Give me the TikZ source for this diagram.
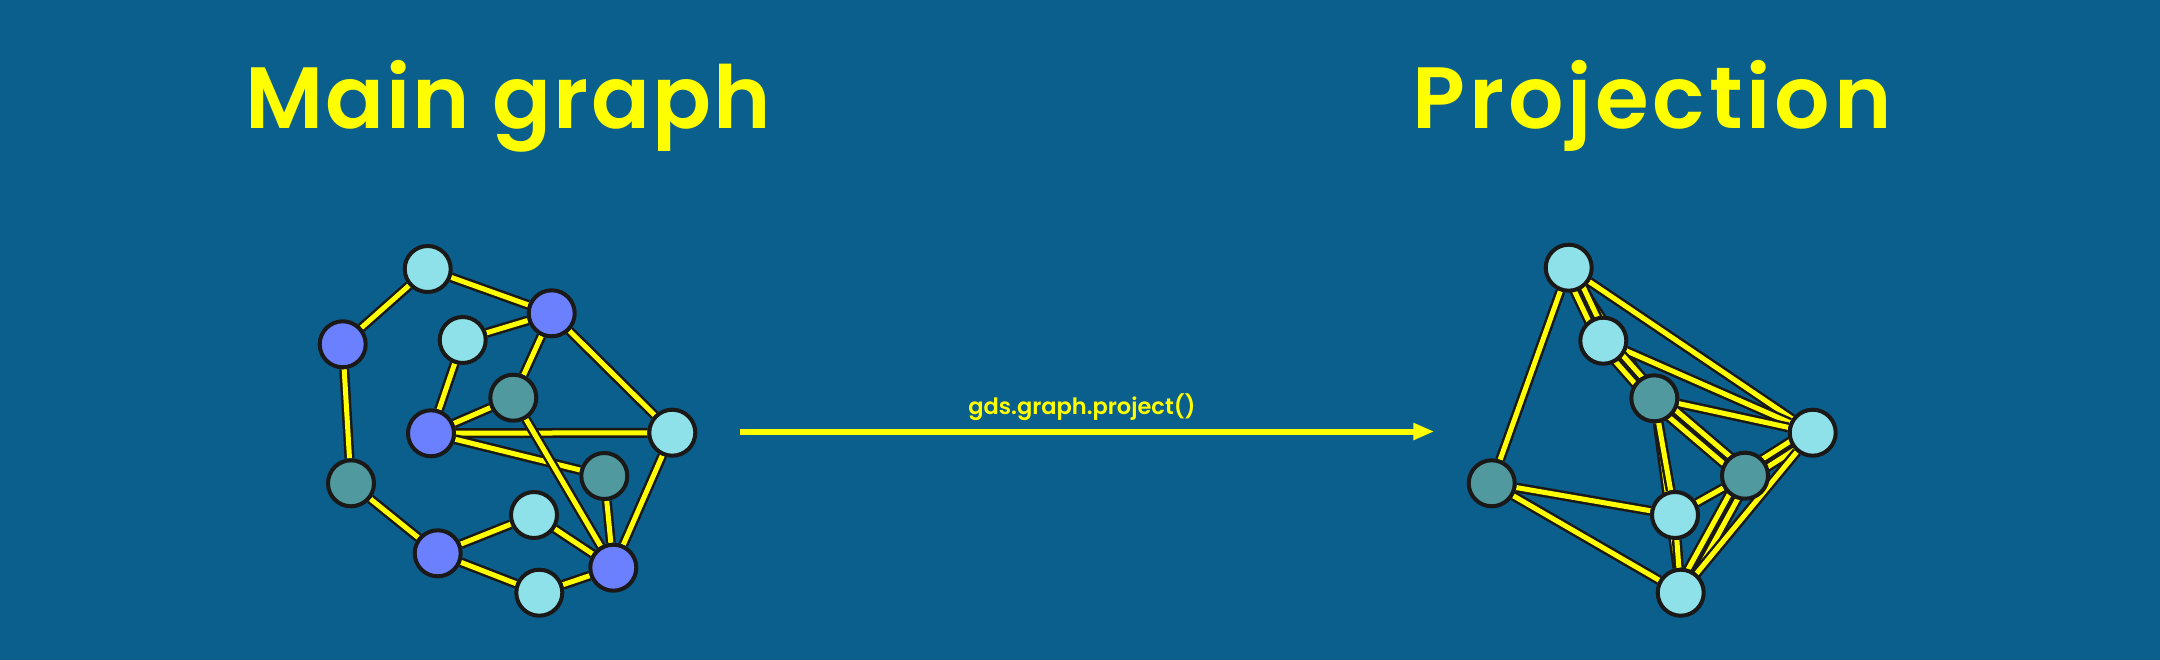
\documentclass[tikz,border=0pt]{standalone}
\usepackage{fontspec}
\setmainfont{Poppins}
\newfontfamily\titlefont{Poppins SemiBold}
\usetikzlibrary{arrows.meta,calc}
\definecolor{bgc}{HTML}{0B5F8C}
\definecolor{ncyan}{HTML}{8EE1E8}
\definecolor{nblue}{HTML}{6B80FF}
\definecolor{nteal}{HTML}{4F999F}
\definecolor{nline}{HTML}{1B1818}
\definecolor{eyellow}{HTML}{FFFF00}
\pgfdeclarelayer{bglayer}
\pgfdeclarelayer{edges}
\pgfsetlayers{bglayer,edges,main}
\newcommand\pairedge[2]{%
  \draw[edge] ($(#1)!4.8pt!90:(#2)$) -- ($(#2)!4.8pt!-90:(#1)$);
  \draw[edge] ($(#1)!4.8pt!-90:(#2)$) -- ($(#2)!4.8pt!90:(#1)$);}
\begin{document}
\begin{tikzpicture}[x=1pt,y=-1pt,
  gnode/.style={circle, draw=nline, line width=4pt, minimum size=46pt, inner sep=0pt},
  cy/.style={gnode, fill=ncyan},
  bl/.style={gnode, fill=nblue},
  te/.style={gnode, fill=nteal},
  edge/.style={draw=nline, line width=2.5pt, double=eyellow, double distance=5pt},
  title/.style={text=eyellow, inner sep=0pt, anchor=base},
  lbl/.style={text=eyellow, inner sep=0pt, anchor=base, font=\titlefont\fontsize{22.5}{26}\selectfont},
  arrow/.style={draw=eyellow, line width=6pt, -{Triangle[length=21pt,width=16pt]}}]
\begin{pgfonlayer}{bglayer}
\fill[bgc] (0,0) rectangle (2160,660);
\end{pgfonlayer}
\useasboundingbox (0,0) rectangle (2160,660);

\node[title, font=\titlefont\fontsize{87}{90}\selectfont\addfontfeature{LetterSpace=2.3}] (t1) at (508,129) {Main graph};
\node[title, font=\titlefont\fontsize{87}{90}\selectfont\addfontfeature{LetterSpace=4.4}] (t2) at (1652,129) {Projection};

\node[lbl] (lab) at (1082,414) {gds.graph.project()};
\coordinate (as) at (740,431.5);
\coordinate (ae) at (1434.3,431.5);
\draw[arrow] (as) -- (ae);

% left graph nodes
\node[cy] (L1) at (427.7,269) {};
\node[bl] (L2) at (551.7,313.3) {};
\node[bl] (L3) at (342.7,344.3) {};
\node[cy] (L4) at (462.7,340) {};
\node[te] (L5) at (513.3,397.7) {};
\node[bl] (L6) at (431,433.3) {};
\node[cy] (L7) at (672.3,432.7) {};
\node[te] (L8) at (604.3,476) {};
\node[te] (L9) at (351,483.3) {};
\node[cy] (L10) at (534,515) {};
\node[bl] (L11) at (437.7,553.3) {};
\node[bl] (L12) at (613.3,567.7) {};
\node[cy] (L13) at (539.3,592.7) {};

% right graph nodes
\node[cy] (A) at (1568.7,267.7) {};
\node[cy] (B) at (1603.3,340.7) {};
\node[te] (C) at (1654.3,398.3) {};
\node[cy] (D) at (1812.7,432.7) {};
\node[te] (E) at (1745,475.7) {};
\node[te] (F) at (1491.7,483.3) {};
\node[cy] (G) at (1675,515) {};
\node[cy] (H) at (1680.7,592.7) {};

\begin{pgfonlayer}{edges}
% left edges
\draw[edge] (L1) -- (L3);
\draw[edge] (L1) -- (L2);
\draw[edge] (L3) -- (L9);
\draw[edge] (L9) -- (L11);
\draw[edge] (L11) -- (L10);
\draw[edge] (L11) -- (L13);
\draw[edge] (L13) -- (L12);
\draw[edge] (L10) -- (L12);
\draw[edge] (L2) -- (L4);
\draw[edge] (L4) -- (L6);
\draw[edge] (L2) -- (L5);
\draw[edge] (L5) -- (L6);
\draw[edge] (L6) -- (L7);
\draw[edge] (L6) -- (L8);
\draw[edge] (L2) -- (L7);
\draw[edge] (L7) -- (L12);
\draw[edge] (L8) -- (L12);
\draw[edge] (L5) -- (L12);
% right edges
\draw[edge] (A) -- (F);
\draw[edge] (A) -- (D);
\draw[edge] (A) -- (C);
\pairedge{A}{B}
\draw[edge] (B) -- (D);
\pairedge{B}{C}
\draw[edge] (C) -- (D);
\pairedge{C}{E}
\draw[edge] (C) -- (H);
\draw[edge] (C) -- (G);
\draw[edge] (F) -- (G);
\draw[edge] (F) -- (H);
\draw[edge] (G) -- (E);
\draw[edge] (G) -- (H);
\pairedge{E}{D}
\pairedge{E}{H}
\draw[edge] (D) -- (H);
\end{pgfonlayer}
\end{tikzpicture}
\end{document}
